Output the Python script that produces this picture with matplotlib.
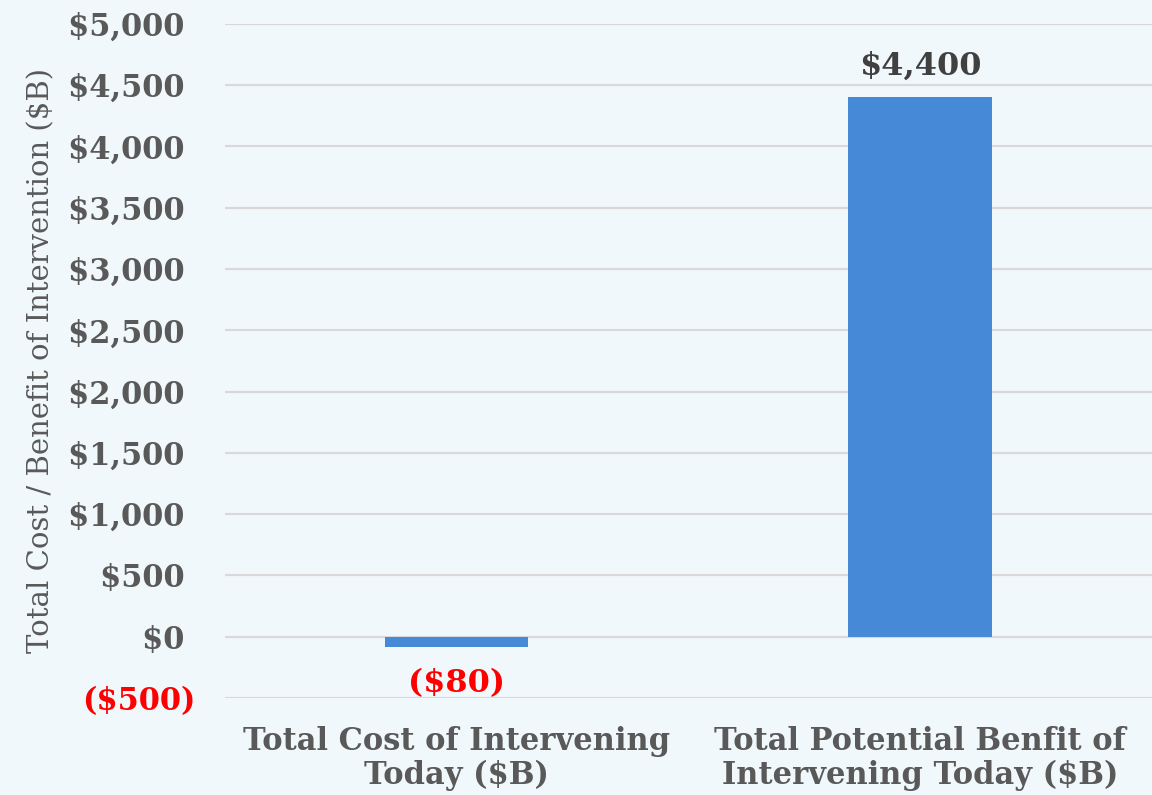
import matplotlib
matplotlib.use("Agg")
import matplotlib.pyplot as plt
from matplotlib.ticker import FixedLocator

categories = ["Total Cost of Intervening\nToday ($B)", "Total Potential Benfit of\nIntervening Today ($B)"]
values = [-80, 4400]
value_labels = ["($80)", "$4,400"]
tick_values = [-500, 0, 500, 1000, 1500, 2000, 2500, 3000, 3500, 4000, 4500, 5000]
tick_labels = ["($500)", "$0 ", "$500 ", "$1,000 ", "$1,500 ", "$2,000 ", "$2,500 ",
               "$3,000 ", "$3,500 ", "$4,000 ", "$4,500 ", "$5,000 "]

bg = "#F1F8FC"
grey = "#595959"
red = "#FF0000"
bar_color = "#4689D6"
font = "DejaVu Serif"

fig = plt.figure(figsize=(11.52, 7.95), dpi=100, facecolor=bg)
ax = fig.add_axes([0.195, 0.122, 0.805, 0.848], facecolor=bg)

x = list(range(len(categories)))
ax.bar(x, values, width=0.31, color=bar_color, zorder=3)
ax.set_xlim(-0.5, 1.5)
ax.set_ylim(-500, 5000)
ax.yaxis.set_major_locator(FixedLocator(tick_values))
ax.set_yticklabels(tick_labels, fontfamily=font, fontweight="bold", fontsize=22, color=grey)
for lbl, v in zip(ax.get_yticklabels(), tick_values):
    if v < 0:
        lbl.set_color(red)
ax.set_xticks(x)
ax.set_xticklabels(categories, fontfamily=font, fontweight="bold", fontsize=22,
                   color=grey, linespacing=1.12)
ax.tick_params(axis="both", length=0)
ax.tick_params(axis="y", pad=21)
ax.tick_params(axis="x", pad=20)
for s in ax.spines.values():
    s.set_visible(False)
ax.grid(axis="y", color="#D9D9D9", linewidth=1.6, zorder=0)
ax.set_axisbelow(True)

ax.set_ylabel("Total Cost / Benefit of Intervention ($B)", fontfamily=font,
              fontsize=21, color=grey, labelpad=9)

for xi, v, lab in zip(x, values, value_labels):
    if v < 0:
        ax.annotate(lab, (xi, v), xytext=(0, -27), textcoords="offset points",
                    ha="center", va="center", fontfamily=font, fontweight="bold",
                    fontsize=23, color=red)
    else:
        ax.annotate(lab, (xi, v), xytext=(0, 11), textcoords="offset points",
                    ha="center", va="bottom", fontfamily=font, fontweight="bold",
                    fontsize=23, color="#404040")

fig.savefig("out.png", dpi=100, facecolor=bg)
